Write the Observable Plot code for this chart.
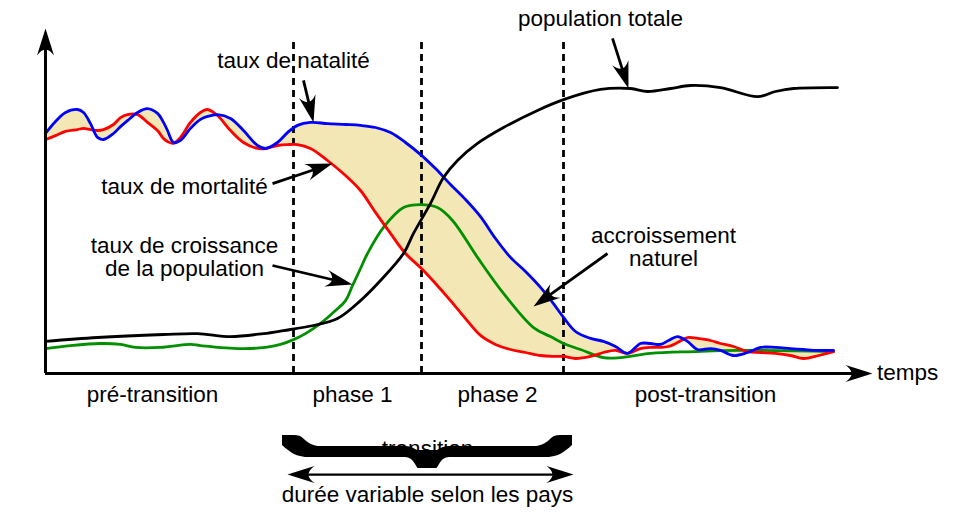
<!DOCTYPE html>
<html><head><meta charset="utf-8">
<script src="https://cdn.jsdelivr.net/npm/d3@7"></script>
<script src="https://cdn.jsdelivr.net/npm/@observablehq/plot@0.6"></script>
<style>body{margin:0;background:#fff;}</style>
</head><body><div id="chart"></div>
<script>
// temps (unités arbitraires) commun aux taux de natalité et de mortalité
const temps = [0,2,4,6.4,7.6,9,10.4,11.6,13.6,15,16.4,18.4,20.4,22.4,23.6,24.4,25.6,27,29,31,32.4,34.4,37,39.6,42.4,44,46.4,48.4,50.4,53,56.4,60,63,66,69,72,75.2,78,81,84,87,90,93,96,99,101.4,103.6,106,109,111.6,114,116.4,119,121,123,124.6,126.4,128.4,130.4,133,135,137.6,140.4,143,146,149,151.6,154.6,157.6];
const natalite = [80,84,87,88,87,83.3,78.7,78,80,82.3,84.3,87,88.3,86.7,83.7,81,77,77.7,81.7,84.7,85.7,86.3,85,81,76,75,77,80.3,82.7,83.7,83.3,83,82.7,82,80.3,77,72.7,68.3,63,58,52.3,45,38.7,34,28.7,23.7,18.7,14,11.7,10.7,9,6.7,10,10,9.7,11,12.3,10.7,8,8.3,7.7,6,7,8.7,8.7,8.3,8,7.7,7.7];
const mortalite = [78,79.3,80.7,81.3,81.7,81.3,81,81.3,83,85.3,86.3,86.3,83.7,81,78.3,77.3,76.7,78.7,83.7,87,88,86,81,77,75,75,76,76.3,76.3,75,71,66,61,53.7,46.7,40,35,30,24.3,18.3,12.7,9.7,8,7,6,5.7,5.7,5,5.7,7,7.7,6.7,8.3,8.7,8.7,9,10.3,12,11.7,11,10,9,7.3,7,6.7,6,5,6,7.3];
const tempsCroissance = [0,5,11,15,18,23,29,31,39,44,47,49.6,52,55,58,60,61.4,63,64.4,67.6,71.6,75,78.4,81.4,86.4,91.6,97.6,101,103.6,107,111.6,115,121,129.6,139,157.6];
const croissance = [8.3,9.3,10,9.7,8.7,8.7,9.7,9.3,8.3,8.7,9.7,11.3,13.3,16.7,21,24.3,29.3,35,40,48.7,55.3,56.3,55.3,51,38.7,26.7,15.3,12.3,10,8,5.3,5.3,6.7,7.3,7.7,7.3];
const tempsPopulation = [0,10.4,23.6,30.4,37,43.6,47.6,53.6,58.4,63,67,71.6,73.6,77,79.6,82.4,86.4,91.6,98.4,103.6,111,117,120.4,125,129,135,142.4,146,149.6,158.4];
const population = [10.7,12,13,13.3,12.3,13.3,14.3,16,18.3,24.3,31,40,46.7,56.7,65.3,71,76.7,82,87.7,91.3,94.7,95,94,95,96,95.3,92.3,94,95,95.3];

// limites des phases et étiquettes
const limites = [49.6, 75.2, 103.6];
const phases = ["pré-transition", "phase 1", "phase 2", "post-transition"];
const phasesCentre = [21.4, 61.4, 90.4, 132];

// annotations
const etiquettes = ["taux de natalité", "population totale", "taux de mortalité", "taux de croissance\nde la population", "accroissement\nnaturel", "transition", "durée variable selon les pays"];
const etiquettesT = [49.6, 111, 27.8, 27.8, 123.6, 76.4, 76.4];
const etiquettesV = [104.3, 118.3, 62.3, 38.8, 42, -25, -40.3];
const flechesDepart = [[51.6, 97.7], [113.4, 111.7], [45.4, 63.3], [45.4, 36], [112.4, 40]];
const flechesPointe = [[53.6, 83.7], [116.6, 95], [57.4, 70], [61.4, 29.7], [97.6, 22.3]];
// accolade « transition » : bord haut et bord bas
const accoladeT =    [47.4, 48.6, 49.8, 51, 52, 53.2, 54.6, 72, 73.2, 74, 74.6, 78.2, 78.8, 79.6, 80.8, 98.2, 99.6, 100.8, 101.8, 103, 104.2, 105.4];
const accoladeHaut = [-20.7, -20.7, -20.7, -21, -22.3, -23.7, -24.3, -24.3, -24.7, -25.3, -25.7, -25.7, -25.3, -24.7, -24.3, -24.3, -23.7, -22.3, -21, -20.7, -20.7, -20.7];
const accoladeBas =  [-24, -25.7, -27, -27.7, -28, -28, -28, -28, -28.7, -30.3, -31.7, -31.7, -30.3, -28.7, -28, -28, -28, -28, -27.7, -27, -25.7, -24];
const dureeT = [48.4, 105.6];
const dureeV = -33.7;

const rows = temps.map((t, i) => ({t, natalite: natalite[i], mortalite: mortalite[i]}));
const rowsC = tempsCroissance.map((t, i) => ({t, v: croissance[i]}));
const rowsP = tempsPopulation.map((t, i) => ({t, v: population[i]}));
const labels = etiquettes.map((s, i) => ({s, t: etiquettesT[i], v: etiquettesV[i]}));
const phaseRows = phases.map((s, i) => ({s, t: phasesCentre[i], v: -7}));
const fleches = flechesDepart.map((a, i) => ({t1: a[0], v1: a[1], t2: flechesPointe[i][0], v2: flechesPointe[i][1]}));
const accolade = accoladeT.map((t, i) => ({t, haut: accoladeHaut[i], bas: accoladeBas[i]}));

const X = {domain: [0, 165], range: [45, 870]};
const Y = {domain: [0, 115], range: [373, 28]};
const sx = Plot.scale({x: X});
const sy = Plot.scale({y: Y});
const angle = d => Math.atan2(sx.apply(d.t2) - sx.apply(d.t1), -(sy.apply(d.v2) - sy.apply(d.v1))) * 180 / Math.PI;

const tete = {draw(ctx) { ctx.moveTo(0, 0); ctx.lineTo(8.5, 27); ctx.quadraticCurveTo(0, 15, -8.5, 27); ctx.closePath(); }};
const font = "Liberation Sans, Arial, sans-serif";
const fs = 22.5;

const chart = Plot.plot({
  width: 960, height: 517,
  marginLeft: 45, marginRight: 90, marginTop: 28, marginBottom: 144,
  x: {...X, axis: null},
  y: {...Y, axis: null},
  style: {fontFamily: font, background: "white", overflow: "visible"},
  marks: [
    Plot.areaY(rows, {x: "t", y1: "mortalite", y2: "natalite", curve: "catmull-rom", fill: "#f4e7b6"}),
    Plot.ruleX(limites, {x: d => d, y1: 0, y2: 112, stroke: "black", strokeWidth: 2.8, strokeDasharray: "7,5"}),
    Plot.line(rowsC, {x: "t", y: "v", curve: "catmull-rom", stroke: "#009000", strokeWidth: 2.8}),
    Plot.line(rows, {x: "t", y: "mortalite", curve: "catmull-rom", stroke: "#ff0000", strokeWidth: 2.8}),
    Plot.line(rows, {x: "t", y: "natalite", curve: "catmull-rom", stroke: "#0000ff", strokeWidth: 2.8}),
    Plot.line(rowsP, {x: "t", y: "v", curve: "catmull-rom", stroke: "black", strokeWidth: 2.8}),
    // axes
    Plot.ruleX([0], {y1: 0, y2: 109, stroke: "black", strokeWidth: 3}),
    Plot.ruleY([0], {x1: 0, x2: 161.8, stroke: "black", strokeWidth: 3}),
    Plot.dot([{t: 0, v: 115, r: 0}, {t: 165.4, v: 0, r: 90}], {x: "t", y: "v", rotate: "r", symbol: tete, fill: "black", stroke: "none"}),
    // flèches d'annotation
    Plot.arrow(fleches, {x1: "t1", y1: "v1", x2: "t2", y2: "v2", headLength: 0, insetEnd: 18, stroke: "black", strokeWidth: 2.8, strokeLinecap: "butt"}),
    Plot.dot(fleches, {x: "t2", y: "v2", rotate: angle, symbol: tete, fill: "black", stroke: "none"}),
    // textes
    Plot.text(labels, {x: "t", y: "v", text: "s", fontSize: fs, lineHeight: 1.02, fill: "black"}),
    Plot.text(phaseRows, {x: "t", y: "v", text: "s", fontSize: fs, fill: "black"}),
    Plot.text(["temps"], {x: 166.3, y: 0.3, text: d => d, textAnchor: "start", fontSize: fs, fill: "black"}),
    // accolade et durée
    Plot.areaY(accolade, {x: "t", y1: "bas", y2: "haut", curve: "monotone-x", fill: "black"}),
    Plot.arrow([{t1: dureeT[0], t2: dureeT[1]}], {x1: "t1", x2: "t2", y1: dureeV, y2: dureeV, headLength: 0, insetStart: 18, insetEnd: 18, stroke: "black", strokeWidth: 2.2, strokeLinecap: "butt"}),
    Plot.dot([{t: dureeT[0], r: -90}, {t: dureeT[1], r: 90}], {x: "t", y: dureeV, rotate: "r", symbol: tete, fill: "black", stroke: "none"})
  ]
});
document.getElementById("chart").append(chart);
</script>
</body></html>
